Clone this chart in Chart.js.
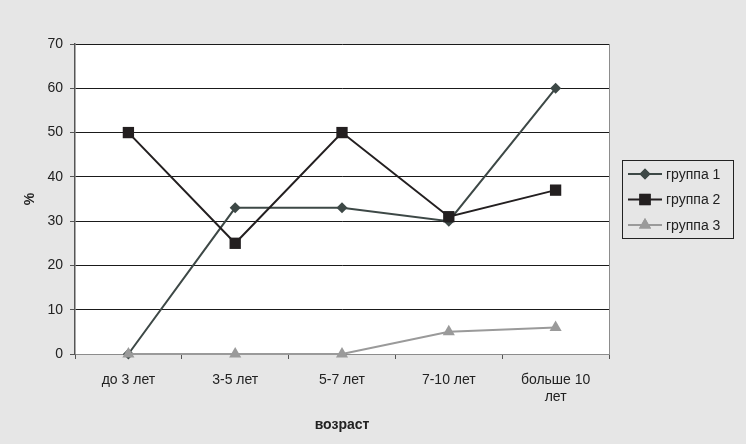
<!DOCTYPE html>
<html><head><meta charset="utf-8">
<script src="https://cdn.jsdelivr.net/npm/chart.js@4/dist/chart.umd.min.js"></script>
<style>html,body{margin:0;padding:0;background:#e6e6e6;}#wrap{width:746px;height:444px;}</style>
</head><body><div id="wrap"><canvas id="c" width="746" height="444"></canvas></div>
<script>
const categories = [["до 3 лет"], ["3-5 лет"], ["5-7 лет"], ["7-10 лет"], ["больше 10", "лет"]];
const seriesNames = ["группа 1", "группа 2", "группа 3"];
const group1 = [0, 33, 33, 30, 60];
const group2 = [50, 25, 50, 31, 37];
const group3 = [0, 0, 0, 5, 6];
const yTicks = [0, 10, 20, 30, 40, 50, 60, 70];
const xTitle = "возраст";
const yTitle = "%";

const FONT = "'Liberation Sans', Arial, sans-serif";
const styles = [
  {color:'#3d4846', style:'rectRot', r:5.5},
  {color:'#231f20', style:'rect', r:8},
  {color:'#9a9a9a', style:'triangle', r:7}
];

const bgPlugin = {
  id:'bg',
  beforeDraw(chart){
    const {ctx, chartArea:a} = chart;
    ctx.save();
    ctx.fillStyle = '#e6e6e6';
    ctx.fillRect(0,0,chart.width,chart.height);
    ctx.fillStyle = '#ffffff';
    ctx.fillRect(a.left, a.top, a.right-a.left, a.bottom-a.top);
    ctx.strokeStyle = '#8c8c8c';
    ctx.lineWidth = 1;
    ctx.beginPath();
    ctx.moveTo(Math.round(a.right)+0.5, a.top);
    ctx.lineTo(Math.round(a.right)+0.5, a.bottom);
    ctx.stroke();
    ctx.restore();
  },
  afterDraw(chart){
    const ctx = chart.ctx;
    ctx.save();
    const bx = 622.5, by = 160.5, bw = 111, bh = 78;
    ctx.fillStyle = '#e6e6e6';
    ctx.fillRect(bx,by,bw,bh);
    ctx.strokeStyle = '#222';
    ctx.lineWidth = 1;
    ctx.strokeRect(bx,by,bw,bh);
    seriesNames.forEach((name,i)=>{
      const ds = chart.data.datasets.find(d=>d.label===name);
      const y = 174 + i*25.5;
      ctx.strokeStyle = ds.borderColor;
      ctx.lineWidth = 2;
      ctx.beginPath(); ctx.moveTo(628,y); ctx.lineTo(662,y); ctx.stroke();
      ctx.fillStyle = ds.borderColor;
      Chart.helpers.drawPoint(ctx, {pointStyle: ds.pointStyle, rotation:0, radius: ds.pointRadius, borderWidth:0}, 645, y);
      ctx.fill();
      ctx.fillStyle = '#222';
      ctx.font = '14px ' + FONT;
      ctx.textBaseline = 'middle';
      ctx.textAlign = 'left';
      ctx.fillText(ds.label, 666, y+1);
    });
    ctx.restore();
  }
};

new Chart(document.getElementById('c'), {
  type:'line',
  data:{
    labels: categories,
    datasets: [group1, group2, group3].map((d,i)=>({
      label: seriesNames[i],
      data: d,
      borderColor: styles[i].color,
      backgroundColor: styles[i].color,
      borderWidth: 2,
      pointStyle: styles[i].style,
      pointRadius: styles[i].r,
      pointHoverRadius: styles[i].r,
      pointBorderWidth: 0,
      tension: 0,
      clip: false
    })).reverse()
  },
  options:{
    responsive:false,
    animation:false,
    devicePixelRatio:1,
    layout:{padding:{left:0, right:137, top:44, bottom:6}},
    plugins:{legend:{display:false}, tooltip:{enabled:false}},
    scales:{
      x:{
        type:'category',
        offset:true,
        grid:{offset:true, drawOnChartArea:false, drawTicks:true, tickLength:5, color:'#555'},
        border:{color:'#8c8c8c', width:1},
        ticks:{color:'#222', font:{family:FONT, size:14}, padding:13, maxRotation:0, autoSkip:false},
        title:{display:true, text:xTitle, color:'#222', font:{family:FONT, size:14, weight:'bold'}, padding:{top:14}},
        afterFit(s){ s.height = 84; }
      },
      y:{
        min:0, max:70,
        afterBuildTicks(s){ s.ticks = yTicks.map(v=>({value:v})); },
        grid:{color:'#1a1a1a', lineWidth:1, tickLength:5, drawTicks:true, tickColor:'#555'},
        border:{color:'#555', width:1.5},
        ticks:{color:'#222', font:{family:FONT, size:14}, padding:7},
        title:{display:true, text:yTitle, color:'#222', font:{family:FONT, size:14, weight:'bold'}, padding:{top:22}},
        afterFit(s){ s.width = 75; }
      }
    }
  },
  plugins:[bgPlugin]
});
</script>
</body></html>
